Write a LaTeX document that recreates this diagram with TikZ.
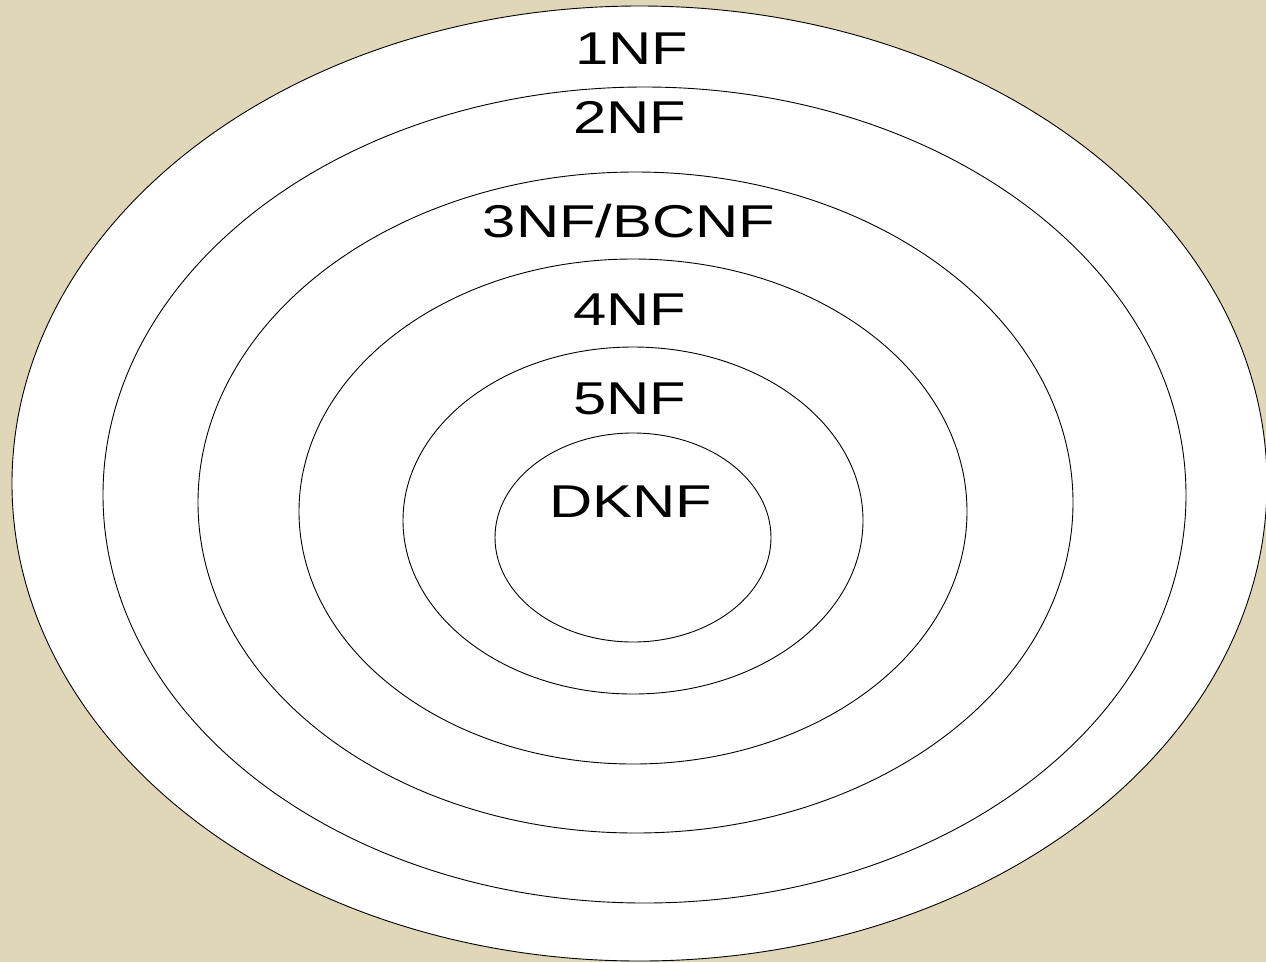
\documentclass[tikz,border=0pt]{standalone}
\usepackage{fontspec}
\setmainfont{Liberation Sans}
\definecolor{bg}{HTML}{E0D6B8}
\begin{document}
\begin{tikzpicture}[x=1pt,y=-1pt,
  ring/.style={draw=black,fill=white,line width=0.9pt},
  lbl/.style={anchor=base,inner sep=0pt,xscale=1.3,font=\fontsize{46}{46}\selectfont}]
\useasboundingbox (0,0) rectangle (1266,962);
\clip (0,0) rectangle (1266,962);
\fill[bg] (0,0) rectangle (1266,962);
\draw[ring] (639.5,483.5) ellipse [x radius=627.5, y radius=477.5];
\draw[ring] (644.5,495) ellipse [x radius=541.5, y radius=408];
\draw[ring] (635.5,502.5) ellipse [x radius=437.5, y radius=330.5];
\draw[ring] (633,511.5) ellipse [x radius=334, y radius=252.5];
\draw[ring] (633,520.5) ellipse [x radius=230, y radius=173.5];
\draw[ring] (633,537.5) ellipse [x radius=138, y radius=104.5];
\node[lbl] (n1) at (632,64) {1NF};
\node[lbl] (n2) at (630,133) {2NF};
\node[lbl] (n3) at (629,237) {3NF/BCNF};
\node[lbl] (n4) at (630,325) {4NF};
\node[lbl] (n5) at (630,414) {5NF};
\node[lbl] (n6) at (631,517) {DKNF};
\end{tikzpicture}
\end{document}
